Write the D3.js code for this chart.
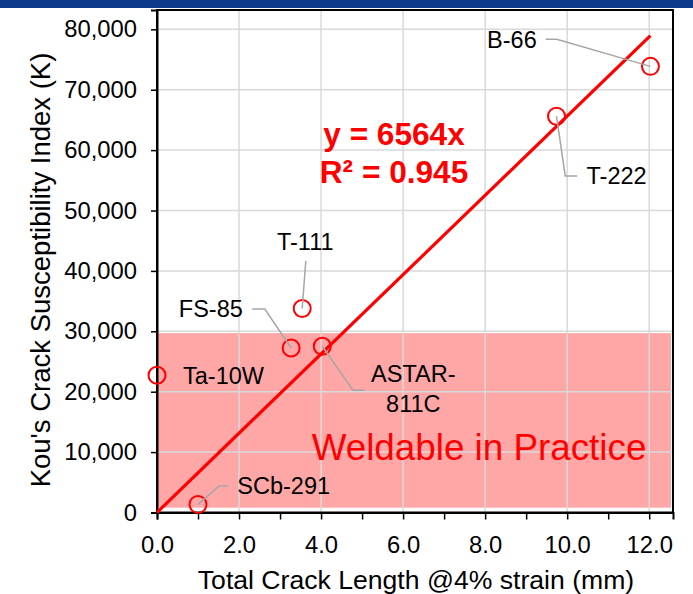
<!DOCTYPE html>
<html>
<head>
<meta charset="utf-8">
<script src="https://cdn.jsdelivr.net/npm/d3@7"></script>
<style>
  html, body { margin: 0; padding: 0; background: #fff; }
  svg { display: block; }
  text { font-family: "Liberation Sans", Arial, "DejaVu Sans", sans-serif; }
</style>
</head>
<body>
<div id="chart"></div>
<script>
// Alloy measurements: total crack length (mm) vs. Kou's crack susceptibility index
const alloys      = ["SCb-291", "Ta-10W", "FS-85", "T-111", "ASTAR-811C", "T-222", "B-66"];
const crackLength = [1.0, 0.0, 3.27, 3.54, 4.03, 9.74, 12.03];
const kouIndex    = [1340, 22720, 27240, 33770, 27520, 65620, 73870];

// Linear fit through the origin
const slope = 6564;
const rSquared = 0.945;

// Region considered weldable in practice
const weldableRange = [800, 29700];

// Axis ticks
const xTicks = [0, 1, 2, 3, 4, 5, 6, 7, 8, 9, 10, 11, 12];
const xLabeled = [0, 2, 4, 6, 8, 10, 12];
const yTicks = [0, 10000, 20000, 30000, 40000, 50000, 60000, 70000, 80000];

const W = 693, H = 594;
const plot = { left: 157, right: 673, top: 10, bottom: 512.5 };

const svg = d3.select("#chart").append("svg")
  .attr("width", W).attr("height", H);

svg.append("rect").attr("width", W).attr("height", H).attr("fill", "#fff");
// Top banner strip
svg.append("rect").attr("x", 0).attr("y", 0).attr("width", W).attr("height", 8)
  .attr("fill", "#0e3a8c");

const x = d3.scaleLinear().domain([0, 12.58]).range([plot.left, plot.right]);
const y = d3.scaleLinear().domain([0, 83200]).range([plot.bottom, plot.top]);

// Weldable band
svg.append("rect")
  .attr("x", x(0))
  .attr("y", y(weldableRange[1]))
  .attr("width", x(12.53) - x(0))
  .attr("height", y(weldableRange[0]) - y(weldableRange[1]))
  .attr("fill", "#ffa6a6");

// Gridlines
const grid = svg.append("g").attr("stroke", "#d9d9d9").attr("stroke-width", 1.5);
grid.selectAll(".gx").data(xLabeled.filter(d => d > 0)).join("line")
  .attr("x1", d => x(d)).attr("x2", d => x(d))
  .attr("y1", plot.top).attr("y2", plot.bottom);
grid.selectAll(".gy").data(yTicks.filter(d => d > 0)).join("line")
  .attr("x1", plot.left).attr("x2", plot.right)
  .attr("y1", d => y(d)).attr("y2", d => y(d));

svg.append("text")
  .attr("x", 479).attr("y", 460)
  .attr("text-anchor", "middle")
  .attr("font-size", 36.8).attr("fill", "#ff0000")
  .text("Weldable in Practice");

// Plot frame
svg.append("rect")
  .attr("x", plot.left).attr("y", plot.top)
  .attr("width", plot.right - plot.left).attr("height", plot.bottom - plot.top)
  .attr("fill", "none").attr("stroke", "#000").attr("stroke-width", 2);

// Axes
const xAxis = svg.append("g")
  .attr("transform", `translate(0,${plot.bottom})`)
  .call(d3.axisBottom(x).tickValues(xTicks).tickSize(7).tickPadding(17)
    .tickFormat(d => xLabeled.includes(d) ? d.toFixed(1) : ""));
const yAxis = svg.append("g")
  .attr("transform", `translate(${plot.left},0)`)
  .call(d3.axisLeft(y).tickValues(yTicks).tickSize(6).tickPadding(14)
    .tickFormat(d3.format(",")));
[xAxis, yAxis].forEach(ax => {
  ax.select(".domain").attr("stroke", "#000").attr("stroke-width", 2);
  ax.selectAll(".tick line").attr("stroke", "#000").attr("stroke-width", 1.5);
  ax.selectAll(".tick text").attr("fill", "#000").attr("font-size", 23.8)
    .attr("font-family", "'Liberation Sans', Arial, sans-serif");
});

// Axis titles
svg.append("text")
  .attr("x", 416).attr("y", 589)
  .attr("text-anchor", "middle").attr("font-size", 26.6).attr("fill", "#000")
  .text("Total Crack Length @4% strain (mm)");
svg.append("text")
  .attr("transform", "translate(50,270) rotate(-90)")
  .attr("text-anchor", "middle").attr("font-size", 27.5).attr("fill", "#000")
  .text("Kou's Crack Susceptibility Index (K)");

// Trendline
const xEnd = d3.max(crackLength);
svg.append("line")
  .attr("x1", x(0)).attr("y1", y(0))
  .attr("x2", x(xEnd)).attr("y2", y(slope * xEnd))
  .attr("stroke", "#ff0000").attr("stroke-width", 3.2);

// Label layout: leader polyline offsets and label offsets, relative to each point
const labelLayout = {
  "SCb-291":    { leader: [[21, -18.3], [30.3, -18.3]], text: [39.3, -18.3], anchor: "start" },
  "Ta-10W":     { leader: [], text: [26, 0], anchor: "start" },
  "FS-85":      { leader: [[-26.3, -39], [-39, -39]], text: [-48.3, -39], anchor: "end" },
  "T-111":      { leader: [[3.6, -47.6]], text: [3.1, -66.6], anchor: "middle" },
  "ASTAR-811C": { leader: [[30.6, 44], [42.3, 44]], text: [91, 27.3], anchor: "middle", lines: ["ASTAR-", "811C"] },
  "T-222":      { leader: [[8.7, 59.7], [20.7, 59.7]], text: [30, 59.7], anchor: "start" },
  "B-66":       { leader: [[-93.7, -27], [-104.7, -27]], text: [-113.7, -27], anchor: "end" }
};

const points = alloys.map((name, i) => ({ name, cx: x(crackLength[i]), cy: y(kouIndex[i]) }));

// Markers
svg.append("g").selectAll("circle").data(points).join("circle")
  .attr("cx", d => d.cx).attr("cy", d => d.cy).attr("r", 8.5)
  .attr("fill", "none").attr("stroke", "#ff0000").attr("stroke-width", 2);

// Leader lines
const line = d3.line();
svg.append("g").selectAll("path")
  .data(points.filter(p => labelLayout[p.name].leader.length))
  .join("path")
  .attr("d", p => line([[p.cx, p.cy], ...labelLayout[p.name].leader.map(o => [p.cx + o[0], p.cy + o[1]])]))
  .attr("fill", "none").attr("stroke", "#a6a6a6").attr("stroke-width", 1.5);

// Point labels
points.forEach(p => {
  const L = labelLayout[p.name];
  const lines = L.lines || [p.name];
  const t = svg.append("text")
    .attr("text-anchor", L.anchor).attr("font-size", 23.5).attr("fill", "#000");
  lines.forEach((s, k) => {
    t.append("tspan")
      .attr("x", p.cx + L.text[0])
      .attr("y", p.cy + L.text[1] + k * 30)
      .attr("dy", "0.35em")
      .text(s);
  });
});

// Fit equation
const eq = svg.append("text")
  .attr("text-anchor", "middle").attr("font-size", 31.6).attr("font-weight", "bold")
  .attr("fill", "#ff0000");
eq.append("tspan").attr("x", 394).attr("y", 145).text(`y = ${slope}x`);
eq.append("tspan").attr("x", 394).attr("y", 183).text(`R² = ${rSquared}`);
</script>
</body>
</html>
